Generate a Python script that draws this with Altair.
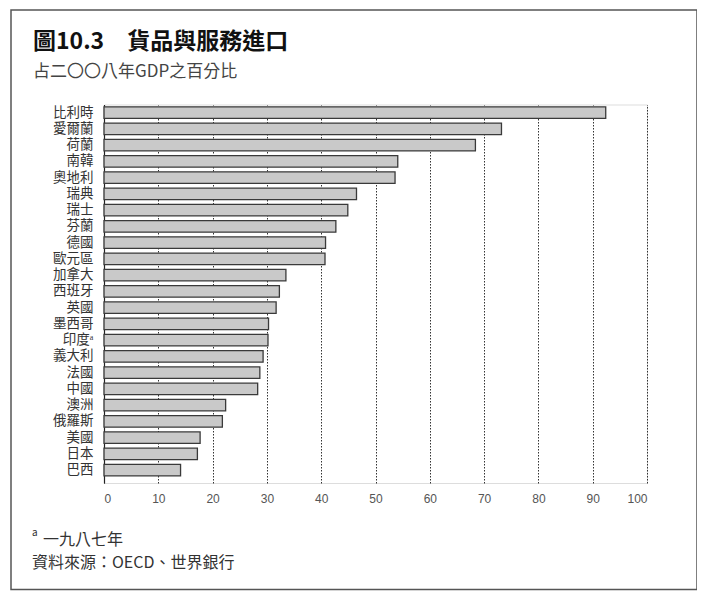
import altair as alt
import pandas as pd

countries = ["比利時", "愛爾蘭", "荷蘭", "南韓", "奧地利", "瑞典", "瑞士", "芬蘭", "德國", "歐元區",
             "加拿大", "西班牙", "英國", "墨西哥", "印度ᵃ", "義大利", "法國", "中國", "澳洲", "俄羅斯",
             "美國", "日本", "巴西"]
values = [92.4, 73.2, 68.4, 54.1, 53.6, 46.5, 44.9, 42.7, 40.8, 40.7,
          33.5, 32.3, 31.7, 30.3, 30.2, 29.3, 28.7, 28.3, 22.4, 21.8,
          17.7, 17.2, 14.1]
x_ticks = [0, 10, 20, 30, 40, 50, 60, 70, 80, 90, 100]
title_text = "圖10.3　貨品與服務進口"
subtitle_text = "占二〇〇八年GDP之百分比"
footnote_mark = "a"
footnote_text = "一九八七年"
source_text = "資料來源：OECD、世界銀行"

FONT = "Noto Sans CJK TC"

df = pd.DataFrame({"country": countries, "value": values})

W, H = 543, 378.5
PAD_TOP, PAD_BOTTOM = 96.5, 108

bars = alt.Chart(df).mark_bar(
    fill="#c9c9c9", stroke="#3a3a3a", strokeWidth=1.3
).encode(
    x=alt.X("value:Q",
            scale=alt.Scale(domain=[0, 100], nice=False),
            axis=alt.Axis(values=x_ticks, title=None, grid=True,
                          gridDash=[1.5, 1.5], gridColor="#333", gridWidth=1,
                          domain=False, ticks=False, labelPadding=10,
                          labelFontSize=12, labelColor="#555",
                          labelFont="Liberation Sans")),
    y=alt.Y("country:N", sort=None,
            scale=alt.Scale(paddingInner=0.29, paddingOuter=0.29, align=0.25),
            axis=alt.Axis(title=None, ticks=False, domain=True,
                          domainColor="#222", domainWidth=1.2,
                          labelPadding=11, labelFontSize=13.5,
                          labelColor="#333", labelFont=FONT)),
)

frame = alt.Chart(pd.DataFrame({"k": [0]})).mark_rect(
    fill=None, stroke="#555", strokeWidth=1.5, clip=False
).encode(
    x=alt.value(-93), x2=alt.value(593),
    y=alt.value(-94.5), y2=alt.value(H + PAD_BOTTOM - 1.5),
)


def label(text, x, y, size, weight="normal", color="#333"):
    return alt.Chart(pd.DataFrame({"t": [text]})).mark_text(
        align="left", baseline="middle", font=FONT, fontSize=size,
        fontWeight=weight, color=color, clip=False
    ).encode(x=alt.value(x), y=alt.value(y), text="t:N")


title = label(title_text, -71, -62.5, 23, "bold", "#111")
subtitle = label(subtitle_text, -71, -32.5, 17, "normal", "#444")
foot_a = label(footnote_mark, -72, 428.5, 10, "normal", "#333")
foot = label(footnote_text, -61, 435.5, 16, "normal", "#333")
src = label(source_text, -72, 458.5, 16, "normal", "#333")

chart = alt.layer(frame, bars, title, subtitle, foot_a, foot, src).properties(
    width=W, height=H,
    autosize=alt.AutoSizeParams(type="none"),
    padding={"left": 96, "top": PAD_TOP, "right": 50, "bottom": PAD_BOTTOM},
).configure_view(stroke=None).configure(background="white")

chart.save("out.html", embed_options={"renderer": "svg", "actions": False})
